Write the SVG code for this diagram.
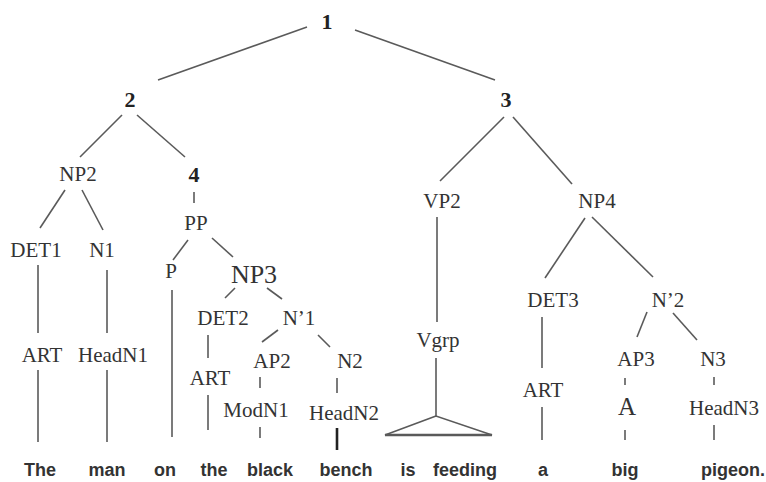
<svg xmlns="http://www.w3.org/2000/svg" width="766" height="482" viewBox="0 0 766 482">
<style>
.lbl{font-family:"Liberation Serif","Times New Roman",serif;font-size:21px;fill:#333;text-anchor:middle}
.num{font-family:"Liberation Serif","Times New Roman",serif;font-size:22px;font-weight:bold;fill:#222;text-anchor:middle}
.big{font-size:26px}
.a{font-size:25px}
.word{font-family:"Liberation Sans",Arial,sans-serif;font-size:18px;font-weight:bold;fill:#333;text-anchor:middle}
.edge line,.edge polygon{stroke:#5a5a5a;stroke-width:1.6;fill:none}
</style>
<rect width="766" height="482" fill="#fff"/>
<g id="connectors" class="edge">
<line x1="307" y1="27" x2="158" y2="80"/>
<line x1="355" y1="30" x2="495" y2="80"/>
<line x1="122" y1="115" x2="80" y2="157"/>
<line x1="137" y1="115" x2="185" y2="157"/>
<line x1="504" y1="117" x2="440" y2="181"/>
<line x1="513" y1="117" x2="572" y2="184"/>
<line x1="65" y1="190" x2="40" y2="228"/>
<line x1="82" y1="190" x2="103" y2="230"/>
<line x1="194" y1="192" x2="194" y2="203"/>
<line x1="188" y1="240" x2="173" y2="260"/>
<line x1="212" y1="238" x2="233" y2="257"/>
<line x1="38" y1="265" x2="38" y2="333"/>
<line x1="107" y1="270" x2="107" y2="333"/>
<line x1="172" y1="290" x2="172" y2="437"/>
<line x1="38" y1="370" x2="38" y2="442"/>
<line x1="107" y1="370" x2="107" y2="442"/>
<line x1="235" y1="288" x2="225" y2="298"/>
<line x1="267" y1="288" x2="282" y2="299"/>
<line x1="208" y1="335" x2="208" y2="358"/>
<line x1="208" y1="395" x2="208" y2="430"/>
<line x1="278" y1="330" x2="262" y2="342"/>
<line x1="318" y1="335" x2="330" y2="347"/>
<line x1="260" y1="377" x2="260" y2="388"/>
<line x1="260" y1="427" x2="260" y2="438"/>
<line x1="337" y1="378" x2="337" y2="393"/>
<line x1="337" y1="428" x2="337" y2="450" style="stroke:#222;stroke-width:2.6"/>
<line x1="437" y1="217" x2="437" y2="322"/>
<line x1="436" y1="358" x2="436" y2="416"/>
<polygon points="436,416 385,435 492,435"/>
<line x1="385" y1="435" x2="492" y2="435" style="stroke-width:2.4"/>
<line x1="585" y1="218" x2="545" y2="278"/>
<line x1="592" y1="217" x2="653" y2="277"/>
<line x1="542" y1="317" x2="542" y2="368"/>
<line x1="542" y1="407" x2="542" y2="440"/>
<line x1="647" y1="312" x2="637" y2="337"/>
<line x1="673" y1="313" x2="697" y2="340"/>
<line x1="625" y1="378" x2="625" y2="385"/>
<line x1="625" y1="430" x2="625" y2="440"/>
<line x1="714" y1="377" x2="714" y2="385"/>
<line x1="714" y1="425" x2="714" y2="440"/>
</g>
<g id="n1"><text class="num" x="327" y="29">1</text></g>
<g id="n2"><text class="num" x="130" y="107">2</text></g>
<g id="n3"><text class="num" x="506" y="107">3</text></g>
<g id="n4"><text class="num" x="194" y="182">4</text></g>
<g id="np2"><text class="lbl" x="78" y="181">NP2</text></g>
<g id="pp"><text class="lbl" x="196" y="230">PP</text></g>
<g id="det1"><text class="lbl" x="36" y="257">DET1</text></g>
<g id="n1b"><text class="lbl" x="102" y="257">N1</text></g>
<g id="p"><text class="lbl" x="171" y="278">P</text></g>
<g id="np3"><text class="lbl big" x="254" y="283">NP3</text></g>
<g id="art1"><text class="lbl" x="42" y="362">ART</text></g>
<g id="headn1"><text class="lbl" x="113" y="362">HeadN1</text></g>
<g id="det2"><text class="lbl" x="223" y="325">DET2</text></g>
<g id="nbar1"><text class="lbl" x="299" y="325">N’1</text></g>
<g id="art2"><text class="lbl" x="210" y="385">ART</text></g>
<g id="ap2"><text class="lbl" x="272" y="368">AP2</text></g>
<g id="n2b"><text class="lbl" x="350" y="368">N2</text></g>
<g id="modn1"><text class="lbl" x="256" y="417">ModN1</text></g>
<g id="headn2"><text class="lbl" x="344" y="420">HeadN2</text></g>
<g id="vp2"><text class="lbl" x="442" y="208">VP2</text></g>
<g id="vgrp"><text class="lbl" x="438" y="347">Vgrp</text></g>
<g id="np4"><text class="lbl" x="597" y="208">NP4</text></g>
<g id="det3"><text class="lbl" x="553" y="307">DET3</text></g>
<g id="nbar2"><text class="lbl" x="668" y="307">N’2</text></g>
<g id="art3"><text class="lbl" x="543" y="397">ART</text></g>
<g id="ap3"><text class="lbl" x="636" y="366">AP3</text></g>
<g id="n3b"><text class="lbl" x="713" y="366">N3</text></g>
<g id="a"><text class="lbl a" x="627" y="415">A</text></g>
<g id="headn3"><text class="lbl" x="724" y="415">HeadN3</text></g>
<g id="words">
<text class="word" x="40" y="476">The</text>
<text class="word" x="107" y="476">man</text>
<text class="word" x="165" y="476">on</text>
<text class="word" x="214" y="476">the</text>
<text class="word" x="270" y="476">black</text>
<text class="word" x="346" y="476">bench</text>
<text class="word" x="408" y="476">is</text>
<text class="word" x="465" y="476">feeding</text>
<text class="word" x="543" y="476">a</text>
<text class="word" x="625" y="476">big</text>
<text class="word" x="733" y="476">pigeon.</text>
</g>
</svg>
